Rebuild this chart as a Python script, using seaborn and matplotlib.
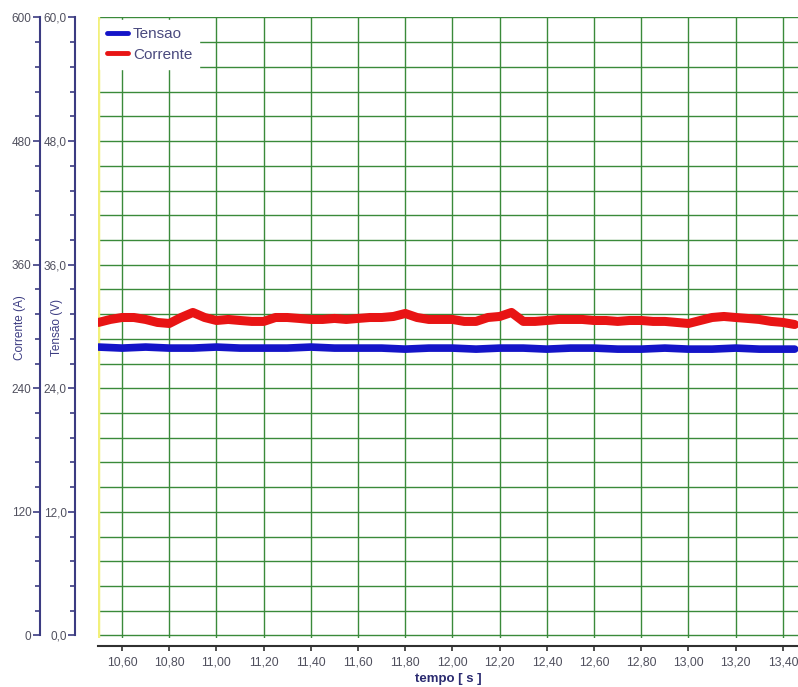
import matplotlib
matplotlib.use("Agg")
import matplotlib.pyplot as plt
import seaborn as sns
import pandas as pd
from matplotlib.ticker import MultipleLocator, FuncFormatter
from matplotlib.lines import Line2D

sns.set_theme(style="white")
plt.rcParams['font.family'] = ['Liberation Sans', 'DejaVu Sans']

# ---- data ----
tempo_corrente = [10.50, 10.55, 10.60, 10.65, 10.70, 10.75, 10.80, 10.85, 10.90, 10.95,
                  11.00, 11.05, 11.10, 11.15, 11.20, 11.25, 11.30, 11.35, 11.40, 11.45,
                  11.50, 11.55, 11.60, 11.65, 11.70, 11.75, 11.80, 11.85, 11.90, 11.95,
                  12.00, 12.05, 12.10, 12.15, 12.20, 12.25, 12.30, 12.35, 12.40, 12.45,
                  12.50, 12.55, 12.60, 12.65, 12.70, 12.75, 12.80, 12.85, 12.90, 12.95,
                  13.00, 13.05, 13.10, 13.15, 13.20, 13.25, 13.30, 13.35, 13.40, 13.45]
corrente = [303.9, 306.8, 308.7, 308.7, 306.8, 303.9, 302.9, 308.7, 313.6, 308.7,
            305.8, 306.8, 305.8, 304.9, 304.9, 308.7, 308.7, 307.8, 306.8, 306.8,
            307.8, 306.8, 307.8, 308.7, 308.7, 309.7, 312.6, 308.7, 306.8, 306.8,
            306.8, 304.9, 304.9, 308.7, 309.7, 313.6, 304.9, 304.9, 305.8, 306.8,
            306.8, 306.8, 305.8, 305.8, 304.9, 305.8, 305.8, 304.9, 304.9, 303.9,
            302.9, 305.8, 308.7, 309.7, 308.7, 307.8, 306.8, 304.9, 303.9, 301.9]

tempo_tensao = [10.50, 10.60, 10.70, 10.80, 10.90, 11.00, 11.10, 11.20, 11.30, 11.40,
                11.50, 11.60, 11.70, 11.80, 11.90, 12.00, 12.10, 12.20, 12.30, 12.40,
                12.50, 12.60, 12.70, 12.80, 12.90, 13.00, 13.10, 13.20, 13.30, 13.40, 13.45]
tensao = [28.0, 27.9, 28.0, 27.9, 27.9, 28.0, 27.9, 27.9, 27.9, 28.0,
          27.9, 27.9, 27.9, 27.8, 27.9, 27.9, 27.8, 27.9, 27.9, 27.8,
          27.9, 27.9, 27.8, 27.8, 27.9, 27.8, 27.8, 27.9, 27.8, 27.8, 27.8]

df_c = pd.DataFrame({"tempo": tempo_corrente, "Corrente": corrente})
df_t = pd.DataFrame({"tempo": tempo_tensao, "Tensao": tensao})

BLUE = "#1414c8"
RED = "#e81414"
GREEN = "#3a8a3a"
NAVY = "#3c3c82"
TICKC = "#50505e"
PX = 0.72  # points per pixel at dpi 100

fig = plt.figure(figsize=(7.98, 6.87), dpi=100)
ax = fig.add_axes([0.1228, 0.0713, 0.8772, 0.904])
ax2 = ax.twinx()
ax.set_facecolor("white")
ax2.patch.set_visible(False)

ax.set_xlim(10.498, 13.464)
ax.set_ylim(-0.25, 60.05)
ax2.set_ylim(-2.5, 600.5)

# grid
ax.xaxis.set_major_locator(MultipleLocator(0.2))
ax.yaxis.set_major_locator(MultipleLocator(12))
ax.yaxis.set_minor_locator(MultipleLocator(2.4))
ax2.yaxis.set_major_locator(MultipleLocator(120))
ax2.yaxis.set_minor_locator(MultipleLocator(24))
ax.grid(which="major", axis="x", color=GREEN, lw=1.0)
ax.grid(which="both", axis="y", color=GREEN, lw=1.0)
ax.set_axisbelow(True)

# left yellow border
ax.axvline(ax.get_xlim()[0], color="#f2f07a", lw=2.5, zorder=1)

# data
sns.lineplot(data=df_t, x="tempo", y="Tensao", ax=ax, color=BLUE, lw=5.5, zorder=3)
sns.lineplot(data=df_c, x="tempo", y="Corrente", ax=ax2, color=RED, lw=6.5, zorder=3)

# spines
for s in ["top", "right"]:
    ax.spines[s].set_visible(False)
    ax2.spines[s].set_visible(False)
ax2.spines["bottom"].set_visible(False)
ax.spines["left"].set_position(("outward", 23 * PX))
ax.spines["left"].set_bounds(0, 60)
ax.spines["left"].set_color(NAVY)
ax.spines["left"].set_linewidth(1.5)
ax.spines["bottom"].set_position(("outward", 8 * PX))
ax.spines["bottom"].set_color("#303030")
ax.spines["bottom"].set_linewidth(1.5)

ax2.yaxis.tick_left()
ax2.yaxis.set_label_position("left")
ax2.spines["left"].set_visible(True)
ax2.spines["left"].set_position(("outward", 58 * PX))
ax2.spines["left"].set_bounds(0, 600)
ax2.spines["left"].set_color(NAVY)
ax2.spines["left"].set_linewidth(1.5)

# ticks
ax.xaxis.set_major_formatter(FuncFormatter(lambda v, p: f"{v:.2f}".replace(".", ",")))
ax.yaxis.set_major_formatter(FuncFormatter(lambda v, p: f"{v:.1f}".replace(".", ",")))
ax2.yaxis.set_major_formatter(FuncFormatter(lambda v, p: f"{v:.0f}"))
ax.tick_params(axis="x", which="major", direction="out", length=5 * PX, width=1.2,
               color="#303030", labelsize=8.8, labelcolor=TICKC, pad=4, bottom=True)
ax.tick_params(axis="y", which="major", direction="out", length=7 * PX, width=1.2,
               color=NAVY, labelsize=8.5, labelcolor=TICKC, pad=1, left=True)
ax.tick_params(axis="y", which="minor", direction="out", length=5 * PX, width=1.2,
               color=NAVY, left=True)
ax2.tick_params(axis="y", which="major", direction="out", length=7 * PX, width=1.2,
                color=NAVY, labelsize=8.5, labelcolor=TICKC, pad=1, left=True, right=False)
ax2.tick_params(axis="y", which="minor", direction="out", length=5 * PX, width=1.2,
                color=NAVY, left=True, right=False)

# labels
ax.set_xlabel("tempo [ s ]", fontsize=9.5, fontweight="bold", color="#2a2a70")
ax.xaxis.set_label_coords(0.5, -0.057)
ax.set_ylabel("Tensão (V)", fontsize=8.5, color=NAVY, va="center")
ax.yaxis.set_label_coords(-0.0586, 0.5)
ax2.set_ylabel("Corrente (A)", fontsize=8.5, color=NAVY, va="center")
ax2.yaxis.set_label_coords(-0.111, 0.5)

# legend
handles = [Line2D([0], [0], color=BLUE, lw=3.5), Line2D([0], [0], color=RED, lw=3.5)]
leg = ax2.legend(handles, ["Tensao", "Corrente"], loc="upper left",
                 bbox_to_anchor=(0.003, 0.995), borderaxespad=0, fontsize=11,
                 frameon=True, facecolor="white", edgecolor="white", framealpha=1,
                 fancybox=False, handlelength=1.4, handletextpad=0.3,
                 labelspacing=0.45, borderpad=0.45)
for t in leg.get_texts():
    t.set_color("#4a4a7e")

fig.savefig("out.png", dpi=100)
